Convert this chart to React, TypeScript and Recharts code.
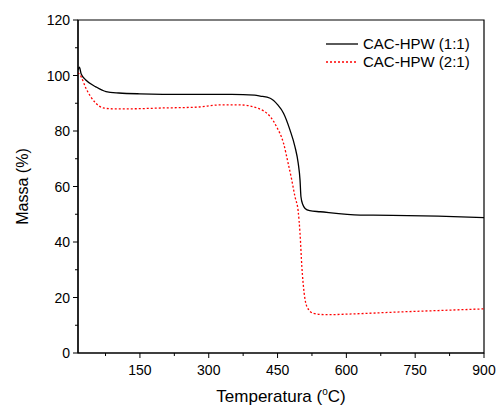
import React from 'react';
import {
  LineChart,
  Line,
  XAxis,
  YAxis,
  Label,
  ReferenceArea,
} from 'recharts';

// CAC-HPW (1:1)
const tempA = [15, 18, 22, 32, 54, 76, 104, 150, 250, 350, 400, 412, 434, 450, 463, 477, 488, 495, 499, 501, 505, 510, 520, 543, 630, 700, 800, 900];
const massA = [102, 103, 100.5, 98.4, 95.9, 94.2, 93.7, 93.4, 93.2, 93.2, 92.9, 92.6, 91.8, 89.5, 86.4, 80.4, 74.3, 68.4, 62.3, 56.3, 53.5, 52.1, 51.3, 50.9, 49.7, 49.6, 49.3, 48.8];

// CAC-HPW (2:1)
const tempB = [15, 22, 32, 43, 54, 70, 90, 128, 200, 274, 325, 368, 405, 420, 434, 448, 463, 473, 481, 488, 495, 499, 503, 508, 514, 528, 558, 600, 717, 800, 900];
const massB = [101, 99.5, 95.5, 92.3, 90, 88.3, 88, 88, 88.3, 88.6, 89.4, 89.4, 88.3, 87.2, 85.2, 81.5, 75.6, 68.4, 62.3, 56.3, 51, 43, 31, 21.6, 16.7, 14.3, 13.8, 14, 14.8, 15.3, 15.9];

const xTicks = [75, 150, 225, 300, 375, 450, 525, 600, 675, 750, 825, 900];
const yTicks = [0, 10, 20, 30, 40, 50, 60, 70, 80, 90, 100, 110, 120];

const seriesA = tempA.map((t, i) => ({ t, m: massA[i] }));
const seriesB = tempB.map((t, i) => ({ t, m: massB[i] }));

const FONT = '"Liberation Sans", Arial, sans-serif';

// let the chart use the full window width (the 900 label sits near the right edge)
if (typeof document !== 'undefined') {
  document.body.style.margin = '0';
}

const XTick = ({ x, y, payload }: any) => {
  const major = payload.value % 150 === 0;
  return (
    <g>
      <line x1={x} y1={y} x2={x} y2={y + (major ? 5 : 3)} stroke="#000" />
      {major && (
        <text x={x} y={y + 22} textAnchor="middle" fontSize={14} fontFamily={FONT} fill="#000">
          {payload.value}
        </text>
      )}
    </g>
  );
};

const YTick = ({ x, y, payload }: any) => {
  const major = payload.value % 20 === 0;
  return (
    <g>
      <line x1={x} y1={y} x2={x - (major ? 5 : 3)} y2={y} stroke="#000" />
      {major && (
        <text x={x - 8} y={y + 5} textAnchor="end" fontSize={14} fontFamily={FONT} fill="#000">
          {payload.value}
        </text>
      )}
    </g>
  );
};

const XTitle = ({ viewBox }: any) => {
  const cx = viewBox.x + viewBox.width / 2;
  return (
    <text x={cx} y={viewBox.y + 49} textAnchor="middle" fontSize={17} fontFamily={FONT} fill="#000">
      Temperatura (<tspan dy={-7} fontSize={10}>o</tspan>
      <tspan dy={7}>C)</tspan>
    </text>
  );
};

// legend drawn on top of the chart
const LegendBox = () => (
  <svg width={150} height={40} style={{ position: 'absolute', top: 36, left: 326 }}>
    <line x1={0} y1={8} x2={32} y2={8} stroke="#000" strokeWidth={1.3} />
    <text x={37} y={13} fontSize={15} fontFamily={FONT} fill="#000">CAC-HPW (1:1)</text>
    <line x1={0} y1={26} x2={32} y2={26} stroke="#ff0000" strokeWidth={1.3} strokeDasharray="2 2" />
    <text x={37} y={31} fontSize={15} fontFamily={FONT} fill="#000">CAC-HPW (2:1)</text>
  </svg>
);

export default function App() {
  return (
    <div style={{ position: 'relative', width: 498, height: 409, overflow: 'hidden' }}>
      <LineChart width={498} height={409} margin={{ top: 20, right: 14, left: 8, bottom: 1 }}>
        <ReferenceArea x1={15} x2={900} y1={0} y2={120} fill="none" stroke="#000" strokeWidth={1.2} />
        <XAxis
          dataKey="t"
          type="number"
          domain={[15, 900]}
          allowDataOverflow
          ticks={xTicks}
          tick={<XTick />}
          tickLine={false}
          tickSize={0}
          tickMargin={0}
          height={55}
          axisLine={{ stroke: '#000', strokeWidth: 1.2 }}
        >
          <Label content={<XTitle />} />
        </XAxis>
        <YAxis
          type="number"
          domain={[0, 120]}
          ticks={yTicks}
          tick={<YTick />}
          tickLine={false}
          tickSize={0}
          tickMargin={0}
          width={70}
          axisLine={{ stroke: '#000', strokeWidth: 1.2 }}
        >
          <Label
            value="Massa (%)"
            angle={-90}
            position="insideLeft"
            offset={14}
            style={{ textAnchor: 'middle', fontSize: 16, fontFamily: FONT, fill: '#000' }}
          />
        </YAxis>
        <Line
          data={seriesA}
          dataKey="m"
          type="monotone"
          stroke="#000"
          strokeWidth={1.3}
          dot={false}
          isAnimationActive={false}
        />
        <Line
          data={seriesB}
          dataKey="m"
          type="monotone"
          stroke="#ff0000"
          strokeWidth={1.3}
          strokeDasharray="2 2"
          dot={false}
          isAnimationActive={false}
        />
      </LineChart>
      <LegendBox />
    </div>
  );
}
